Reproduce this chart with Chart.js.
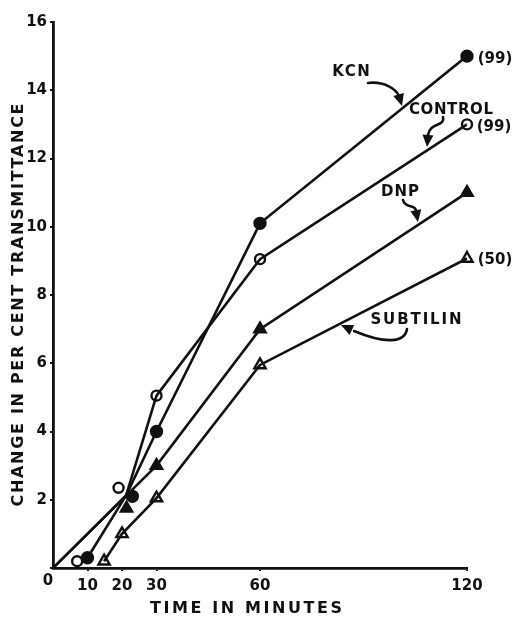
<!DOCTYPE html>
<html>
<head>
<meta charset="utf-8">
<script src="https://cdn.jsdelivr.net/npm/chart.js@4/dist/chart.umd.min.js"></script>
<style>
  body { margin: 0; background: #fff; }
  canvas { display: block; }
</style>
</head>
<body>
<canvas id="chart" width="514" height="619"></canvas>
<script>
// data (time in minutes, change in per cent transmittance)
const xTicks = [10, 20, 30, 60, 120];

const kcnTime = [10, 23, 30, 60, 120];
const kcnChange = [0.3, 2.1, 4.0, 10.1, 15.0];
const kcnLineTime = [10, 21.2, 30, 60, 120];
const kcnLineChange = [0.3, 2.13, 4.0, 10.1, 15.0];

const controlTime = [7, 19, 30, 60, 120];
const controlChange = [0.2, 2.35, 5.05, 9.05, 13.0];
const controlLineTime = [0, 21.2, 30, 60, 120];
const controlLineChange = [0, 2.13, 5.05, 9.05, 13.0];

const dnpTime = [21.3, 30, 60, 120];
const dnpChange = [1.75, 3.0, 7.0, 11.0];
const dnpLineTime = [0, 30, 60, 120];
const dnpLineChange = [0, 3.0, 7.0, 11.0];

const subtilinTime = [14.8, 20, 30, 60, 120];
const subtilinChange = [0.2, 1.0, 2.05, 5.95, 9.07];

const ink = '#111';
const fontFamily = '"DejaVu Sans", sans-serif';

function pairs(xs, ys) {
    return xs.map((x, i) => ({ x: x, y: ys[i] }));
}

function lineSet(xs, ys) {
    return {
        data: pairs(xs, ys),
        showLine: true,
        borderColor: ink,
        borderWidth: 2.6,
        pointRadius: 0,
        tension: 0
    };
}

function markerSet(xs, ys, style, filled, radius) {
    return {
        data: pairs(xs, ys),
        showLine: false,
        clip: false,
        pointStyle: style,
        pointRadius: radius,
        pointBorderWidth: 2.4,
        pointBorderColor: ink,
        pointBackgroundColor: filled ? ink : '#fff'
    };
}

function drawArrow(ctx, path, tip) {
    ctx.save();
    ctx.strokeStyle = ink;
    ctx.fillStyle = ink;
    ctx.lineWidth = 2.6;
    ctx.lineCap = 'round';
    ctx.beginPath();
    ctx.moveTo(path[0][0], path[0][1]);
    ctx.bezierCurveTo(path[1][0], path[1][1], path[2][0], path[2][1], path[3][0], path[3][1]);
    ctx.stroke();
    let last = path[path.length - 1];
    let ang = Math.atan2(tip[1] - last[1], tip[0] - last[0]);
    let len = 12, half = 5.5;
    ctx.beginPath();
    ctx.moveTo(tip[0], tip[1]);
    ctx.lineTo(tip[0] - len * Math.cos(ang) + half * Math.sin(ang), tip[1] - len * Math.sin(ang) - half * Math.cos(ang));
    ctx.lineTo(tip[0] - len * Math.cos(ang) - half * Math.sin(ang), tip[1] - len * Math.sin(ang) + half * Math.cos(ang));
    ctx.closePath();
    ctx.fill();
    ctx.restore();
}

function drawText(ctx, text, x, y, size, spacing, rotate) {
    ctx.save();
    ctx.fillStyle = ink;
    ctx.font = `bold ${size}px ${fontFamily}`;
    ctx.letterSpacing = spacing + 'px';
    ctx.textAlign = 'center';
    ctx.textBaseline = 'middle';
    ctx.translate(x, y);
    if (rotate) ctx.rotate(-Math.PI / 2);
    ctx.fillText(text, spacing / 2, 0);
    ctx.restore();
}

const labelsPlugin = {
    id: 'labels',
    afterDraw(chart) {
        const ctx = chart.ctx;
        drawText(ctx, 'CHANGE IN PER CENT TRANSMITTANCE', 19, 305, 16, 1.7, true);
        drawText(ctx, 'TIME IN MINUTES', 246, 609, 16, 2.6, false);
        drawText(ctx, '0', 48, 581, 15, 0, false);

        drawText(ctx, 'KCN', 351, 72, 15, 1.6, false);
        drawText(ctx, 'CONTROL', 451, 110, 15, 0.6, false);
        drawText(ctx, 'DNP', 400, 192, 15, 1, false);
        drawText(ctx, 'SUBTILIN', 416, 320, 15, 1.9, false);
        drawText(ctx, '(99)', 495, 59, 15, 0, false);
        drawText(ctx, '(99)', 494, 127, 15, 0, false);
        drawText(ctx, '(50)', 495, 260, 15, 0, false);

        drawArrow(ctx, [[368, 83], [384, 81], [396, 89], [399, 96]], [402, 106]);
        drawArrow(ctx, [[443, 117], [445, 127], [430, 122], [428, 135]], [427, 147]);
        drawArrow(ctx, [[403, 200], [405, 209], [416, 204], [416, 211]], [418, 222]);
        drawArrow(ctx, [[407, 329], [405, 343], [385, 344], [354, 331]], [341, 325]);
    }
};

new Chart(document.getElementById('chart').getContext('2d'), {
    type: 'scatter',
    data: {
        datasets: [
            lineSet(controlLineTime, controlLineChange),
            lineSet(dnpLineTime, dnpLineChange),
            lineSet(kcnLineTime, kcnLineChange),
            lineSet(subtilinTime, subtilinChange),
            markerSet(kcnTime, kcnChange, 'circle', true, 5.5),
            markerSet(controlTime, controlChange, 'circle', false, 5),
            markerSet(dnpTime, dnpChange, 'triangle', true, 6.5),
            markerSet(subtilinTime, subtilinChange, 'triangle', false, 6.5)
        ]
    },
    options: {
        responsive: false,
        animation: false,
        layout: { padding: { top: 22, right: 47, bottom: 0, left: 0 } },
        plugins: {
            legend: { display: false },
            tooltip: { enabled: false }
        },
        scales: {
            x: {
                type: 'linear',
                min: 0,
                max: 120,
                afterBuildTicks: (axis) => {
                    axis.ticks = xTicks.map((v) => ({ value: v }));
                },
                afterFit: (axis) => { axis.height = 51; },
                border: { color: ink, width: 2.8 },
                grid: { display: true, drawOnChartArea: false, color: ink, lineWidth: 2, tickLength: 3 },
                ticks: {
                    color: ink,
                    padding: 6,
                    maxRotation: 0,
                    autoSkip: false,
                    font: { family: fontFamily, size: 15, weight: 'bold' }
                }
            },
            y: {
                min: 0,
                max: 16,
                afterFit: (axis) => { axis.width = 53; },
                border: { color: ink, width: 2.8 },
                grid: { display: true, drawOnChartArea: false, color: ink, lineWidth: 2, tickLength: 3 },
                ticks: {
                    stepSize: 2,
                    color: ink,
                    padding: 3,
                    font: { family: fontFamily, size: 15, weight: 'bold' },
                    callback: (v) => (v === 0 ? '' : v)
                }
            }
        }
    },
    plugins: [labelsPlugin]
});
</script>
</body>
</html>
